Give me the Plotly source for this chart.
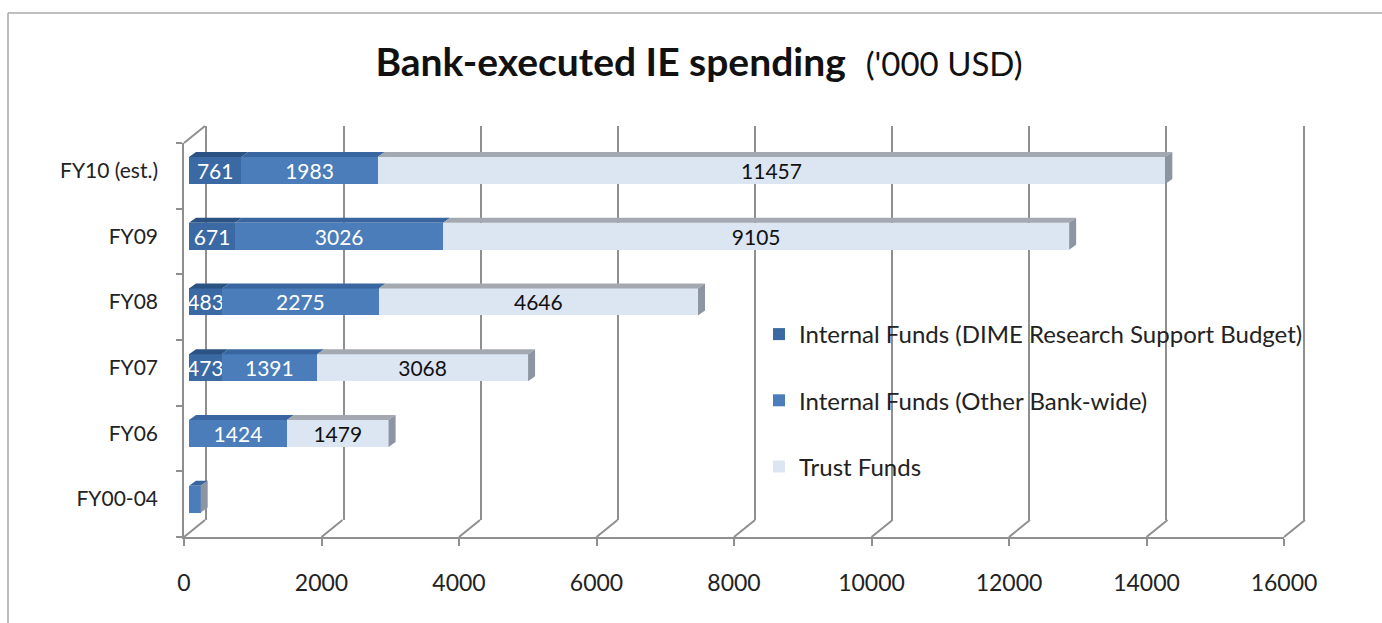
import plotly.graph_objects as go

# ---------------- data ----------------
categories = ["FY00-04", "FY06", "FY07", "FY08", "FY09", "FY10 (est.)"]
dime_research = [0, 0, 473, 483, 671, 761]
other_bankwide = [170, 1424, 1391, 2275, 3026, 1983]
trust_funds = [0, 1479, 3068, 4646, 9105, 11457]
series_names = [
    "Internal Funds (DIME Research Support Budget)",
    "Internal Funds (Other Bank-wide)",
    "Trust Funds",
]
x_ticks = [0, 2000, 4000, 6000, 8000, 10000, 12000, 14000, 16000]

# ---------------- style ----------------
W, H = 1382, 623
FONT = "Lato"
front_colors = ["#3A69A3", "#4A7DBA", "#DCE5F2"]
top_colors = ["#2A5283", "#3966A0", "#A4A9B1"]
end_color = "#8C95A1"
text_colors = ["white", "white", "#111111"]
grid_color = "#8F8F8F"
XMAX = 16000

def px(x):
    return x / W

def py(y):
    return 1 - y / H

FRONT_L, FRONT_R, FRONT_T, FRONT_B = 184, 1284, 143, 537
DX, DY = 21, 17
BAR_L, BAR_R, BAR_T, BAR_B = 189, 1289, 137.6, 532
BAR_W = 0.41
unit_per_px = XMAX / (BAR_R - BAR_L)
band_px = (BAR_B - BAR_T) / len(categories)
FACE_DX = 7 * unit_per_px
FACE_DY = 5 / band_px

ypos = list(range(len(categories)))
series = [dime_research, other_bankwide, trust_funds]

fig = go.Figure()

fig.add_trace(go.Scatter(x=[None], y=[None], xaxis="x", yaxis="y",
                         showlegend=False, hoverinfo="skip"))
fig.add_trace(go.Scatter(x=[None], y=[None], xaxis="x2", yaxis="y2",
                         showlegend=False, hoverinfo="skip"))

for i, (name, vals) in enumerate(zip(series_names, series)):
    fig.add_trace(go.Bar(
        name=name,
        x=vals,
        y=ypos,
        orientation="h",
        width=BAR_W,
        xaxis="x3",
        yaxis="y3",
        marker=dict(color=front_colors[i], line=dict(width=0)),
        text=[str(v) if v >= 300 else "" for v in vals],
        textposition="inside",
        insidetextanchor="middle",
        textfont=dict(family=FONT, size=21, color=text_colors[i]),
        legendgroup=str(i),
        hoverinfo="x+name",
    ))

shapes = []
for k, c in enumerate(ypos):
    start = 0
    top = c + BAR_W / 2
    bot = c - BAR_W / 2
    for i, vals in enumerate(series):
        v = vals[k]
        if v <= 0:
            continue
        x0, x1 = start, start + v
        shapes.append(dict(
            type="path", xref="x3", yref="y3",
            path=f"M {x0},{top} L {x1},{top} L {x1 + FACE_DX},{top + FACE_DY} L {x0 + FACE_DX},{top + FACE_DY} Z",
            fillcolor=top_colors[i], line=dict(width=0), layer="above"))
        start = x1
    if start > 0:
        shapes.append(dict(
            type="path", xref="x3", yref="y3",
            path=f"M {start},{bot} L {start},{top} L {start + FACE_DX},{top + FACE_DY} L {start + FACE_DX},{bot + FACE_DY} Z",
            fillcolor=end_color, line=dict(width=0), layer="above"))

for t in x_ticks:
    xf = FRONT_L + t / XMAX * (FRONT_R - FRONT_L)
    shapes.append(dict(type="line", xref="paper", yref="paper",
                       x0=px(xf), y0=py(FRONT_B), x1=px(xf + DX), y1=py(FRONT_B - DY),
                       line=dict(color=grid_color, width=2), layer="below"))
shapes.append(dict(type="line", xref="paper", yref="paper",
                   x0=px(FRONT_L), y0=py(FRONT_T), x1=px(FRONT_L + DX), y1=py(FRONT_T - DY),
                   line=dict(color=grid_color, width=2), layer="below"))
# outer chart border (top and left edges visible only)
shapes.append(dict(type="line", xref="paper", yref="paper",
                   x0=px(8), y0=py(13), x1=1, y1=py(13),
                   line=dict(color="#A8A8A8", width=1.5), layer="below"))
shapes.append(dict(type="line", xref="paper", yref="paper",
                   x0=px(8), y0=py(13), x1=px(8), y1=0,
                   line=dict(color="#A8A8A8", width=1.5), layer="below"))

fig.update_layout(
    width=W, height=H, autosize=False,
    margin=dict(l=0, r=0, t=0, b=0, autoexpand=False),
    paper_bgcolor="white",
    plot_bgcolor="rgba(0,0,0,0)",
    barmode="stack",
    font=dict(family=FONT, color="#222222"),
    uniformtext=dict(minsize=21, mode="show"),
    title=dict(
        text="<b>Bank-executed IE spending</b>  <span style='font-size:33px'>('000 USD)</span>",
        x=px(699), xanchor="center", y=py(62), yanchor="middle",
        font=dict(family=FONT, size=39, color="#111111"),
    ),
    xaxis=dict(domain=[px(FRONT_L + DX), px(FRONT_R + DX)], range=[-20, XMAX + 20],
               tickvals=x_ticks, showgrid=True, gridcolor=grid_color, gridwidth=2,
               showticklabels=False, ticks="", zeroline=False, showline=False,
               anchor="y", fixedrange=True),
    yaxis=dict(domain=[py(FRONT_B - DY), py(FRONT_T - DY)], range=[0, 1],
               visible=False, anchor="x", fixedrange=True),
    xaxis2=dict(domain=[px(FRONT_L), px(FRONT_R)], range=[0, XMAX],
                tickvals=x_ticks, tickformat="d", showgrid=False, zeroline=False,
                showline=True, linecolor=grid_color, linewidth=2,
                ticks="outside", ticklen=7, tickcolor=grid_color, tickwidth=2,
                ticklabelstandoff=17,
                tickfont=dict(family=FONT, size=23, color="#222222"),
                anchor="y2", fixedrange=True),
    yaxis2=dict(domain=[py(FRONT_B), py(FRONT_T)], range=[0, len(categories)],
                tickvals=list(range(len(categories) + 1)), showgrid=False, zeroline=False,
                showline=True, linecolor=grid_color, linewidth=2,
                ticks="outside", ticklen=6, tickcolor=grid_color, tickwidth=2,
                showticklabels=False, anchor="x2", fixedrange=True),
    xaxis3=dict(domain=[px(BAR_L), px(BAR_R)], range=[0, XMAX], visible=False,
                anchor="y3", fixedrange=True),
    yaxis3=dict(domain=[py(BAR_B), py(BAR_T)], range=[-0.5, len(categories) - 0.5],
                tickvals=ypos, ticktext=categories, showgrid=False, zeroline=False,
                showline=False, ticks="", ticklabelstandoff=30,
                tickfont=dict(family=FONT, size=21, color="#222222"),
                anchor="x3", fixedrange=True),
    legend=dict(
        x=px(759), y=py(312), xanchor="left", yanchor="top",
        bgcolor="rgba(0,0,0,0)", borderwidth=0,
        font=dict(family=FONT, size=24, color="#222222"),
        traceorder="grouped", tracegroupgap=32,
    ),
    shapes=shapes,
)

fig.write_html("out.html")
